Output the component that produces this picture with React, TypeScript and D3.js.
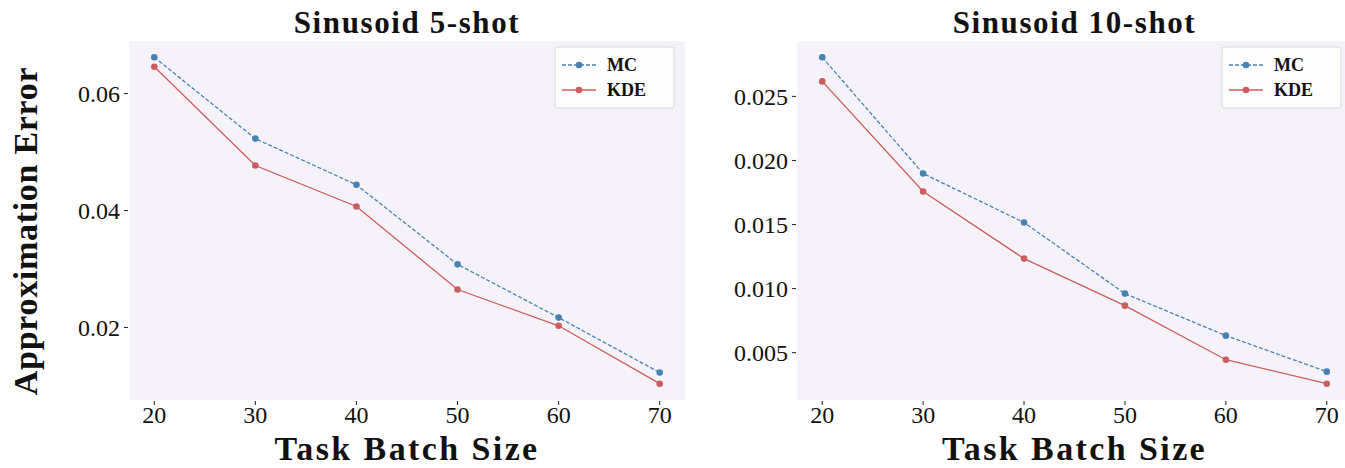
import React, { useEffect, useRef } from "react";
import * as d3 from "d3";

// batch sizes on the x axis
const batchSizes = [20, 30, 40, 50, 60, 70];

// Sinusoid 5-shot
const mc5 = [0.0662, 0.0523, 0.0444, 0.0308, 0.0217, 0.0123];
const kde5 = [0.0646, 0.0477, 0.0407, 0.0265, 0.0203, 0.0104];
const yTicks5 = [0.02, 0.04, 0.06];

// Sinusoid 10-shot
const mc10 = [0.02805, 0.01898, 0.01516, 0.00961, 0.00633, 0.00352];
const kde10 = [0.02617, 0.01758, 0.01234, 0.00867, 0.00445, 0.00258];
const yTicks10 = [0.005, 0.01, 0.015, 0.02, 0.025];

const seriesNames = ["MC", "KDE"];

const W = 1345;
const H = 468;
const FONT = "'Liberation Serif', 'DejaVu Serif', serif";
const BG = "#f5f3f9";
const COLORS = ["#4682b4", "#cd5c5c"];

type Panel = {
  title: string;
  mc: number[];
  kde: number[];
  ticks: number[];
  fmt: string;
  left: number;
  right: number;
};

const panels: Panel[] = [
  { title: "Sinusoid 5-shot", mc: mc5, kde: kde5, ticks: yTicks5, fmt: ".2f", left: 129, right: 685 },
  { title: "Sinusoid 10-shot", mc: mc10, kde: kde10, ticks: yTicks10, fmt: ".3f", left: 797, right: 1352 },
];

export default function App() {
  const ref = useRef<SVGSVGElement>(null);

  useEffect(() => {
    const svg = d3.select(ref.current);
    svg.selectAll("*").remove();
    const top = 41, bottom = 400;

    panels.forEach((p) => {
      const g = svg.append("g");
      // matplotlib-like 5% margins
      const x = d3.scaleLinear().domain([17.5, 72.5]).range([p.left, p.right]);
      const all = p.mc.concat(p.kde);
      const lo = d3.min(all)!, hi = d3.max(all)!;
      const pad = (hi - lo) * 0.05;
      const y = d3.scaleLinear().domain([lo - pad, hi + pad]).range([bottom, top]);

      g.append("rect")
        .attr("x", p.left).attr("y", top)
        .attr("width", p.right - p.left).attr("height", bottom - top)
        .attr("fill", BG);

      // y ticks
      const yt = g.selectAll(".yt").data(p.ticks).enter().append("g")
        .attr("transform", (d) => `translate(${p.left},${y(d)})`);
      yt.append("line").attr("x1", -5).attr("x2", -1).attr("stroke", "#222").attr("stroke-width", 1);
      yt.append("text")
        .attr("x", -9).attr("dy", "0.35em")
        .attr("text-anchor", "end")
        .style("font-family", FONT).style("font-size", "24px")
        .attr("fill", "#111")
        .text((d) => d3.format(p.fmt)(d));

      // x ticks
      const xt = g.selectAll(".xt").data(batchSizes).enter().append("g")
        .attr("transform", (d) => `translate(${x(d)},${bottom})`);
      xt.append("line").attr("y1", 1).attr("y2", 5).attr("stroke", "#222").attr("stroke-width", 1);
      xt.append("text")
        .attr("y", 23).attr("text-anchor", "middle")
        .style("font-family", FONT).style("font-size", "24px")
        .attr("fill", "#111")
        .text((d) => d);

      // series
      [p.mc, p.kde].forEach((vals, i) => {
        const pts = vals.map((v, j) => [batchSizes[j], v] as [number, number]);
        const line = d3.line<[number, number]>().x((d) => x(d[0])).y((d) => y(d[1]));
        g.append("path")
          .attr("d", line(pts))
          .attr("fill", "none")
          .attr("stroke", COLORS[i])
          .attr("stroke-width", 1.3)
          .attr("stroke-dasharray", i === 0 ? "4,2" : null);
        g.selectAll(".pt" + i).data(pts).enter().append("circle")
          .attr("cx", (d) => x(d[0])).attr("cy", (d) => y(d[1]))
          .attr("r", 3.3).attr("fill", COLORS[i]);
      });

      // title
      g.append("text")
        .attr("x", (p.left + p.right) / 2).attr("y", 33)
        .attr("text-anchor", "middle")
        .style("font-family", FONT).style("font-size", "31px").style("font-weight", "bold")
        .style("letter-spacing", "1.6px")
        .attr("fill", "#111")
        .text(p.title);

      // x label
      g.append("text")
        .attr("x", (p.left + p.right) / 2).attr("y", 460)
        .attr("text-anchor", "middle")
        .style("font-family", FONT).style("font-size", "34px").style("font-weight", "bold")
        .style("letter-spacing", "2.4px")
        .attr("fill", "#111")
        .text("Task Batch Size");

      // legend
      const lx = Math.min(p.right, W) - 130 + (p.right > W ? 7 : 0);
      const lg = g.append("g").attr("transform", `translate(${lx},47)`);
      lg.append("rect")
        .attr("width", 119).attr("height", 61).attr("rx", 3)
        .attr("fill", "#fdfdfe").attr("stroke", "#dcdcdc");
      seriesNames.forEach((name, i) => {
        const ly = 18 + i * 25;
        lg.append("line")
          .attr("x1", 7).attr("x2", 41).attr("y1", ly).attr("y2", ly)
          .attr("stroke", COLORS[i]).attr("stroke-width", 1.3)
          .attr("stroke-dasharray", i === 0 ? "4,2" : null);
        lg.append("circle").attr("cx", 24).attr("cy", ly).attr("r", 3.3).attr("fill", COLORS[i]);
        lg.append("text")
          .attr("x", 52).attr("y", ly).attr("dy", "0.35em")
          .style("font-family", FONT).style("font-size", "18px").style("font-weight", "bold")
          .attr("fill", "#111")
          .text(name);
      });
    });

    // shared y label
    svg.append("text")
      .attr("transform", `translate(37,231) rotate(-90)`)
      .attr("text-anchor", "middle")
      .style("font-family", FONT).style("font-size", "34px").style("font-weight", "bold")
      .style("letter-spacing", "0.7px")
      .attr("fill", "#111")
      .text("Approximation Error");
  }, []);

  return (
    <svg
      ref={ref}
      width={W}
      height={H}
      style={{ position: "absolute", left: 0, top: 0, background: "#fff" }}
    />
  );
}
